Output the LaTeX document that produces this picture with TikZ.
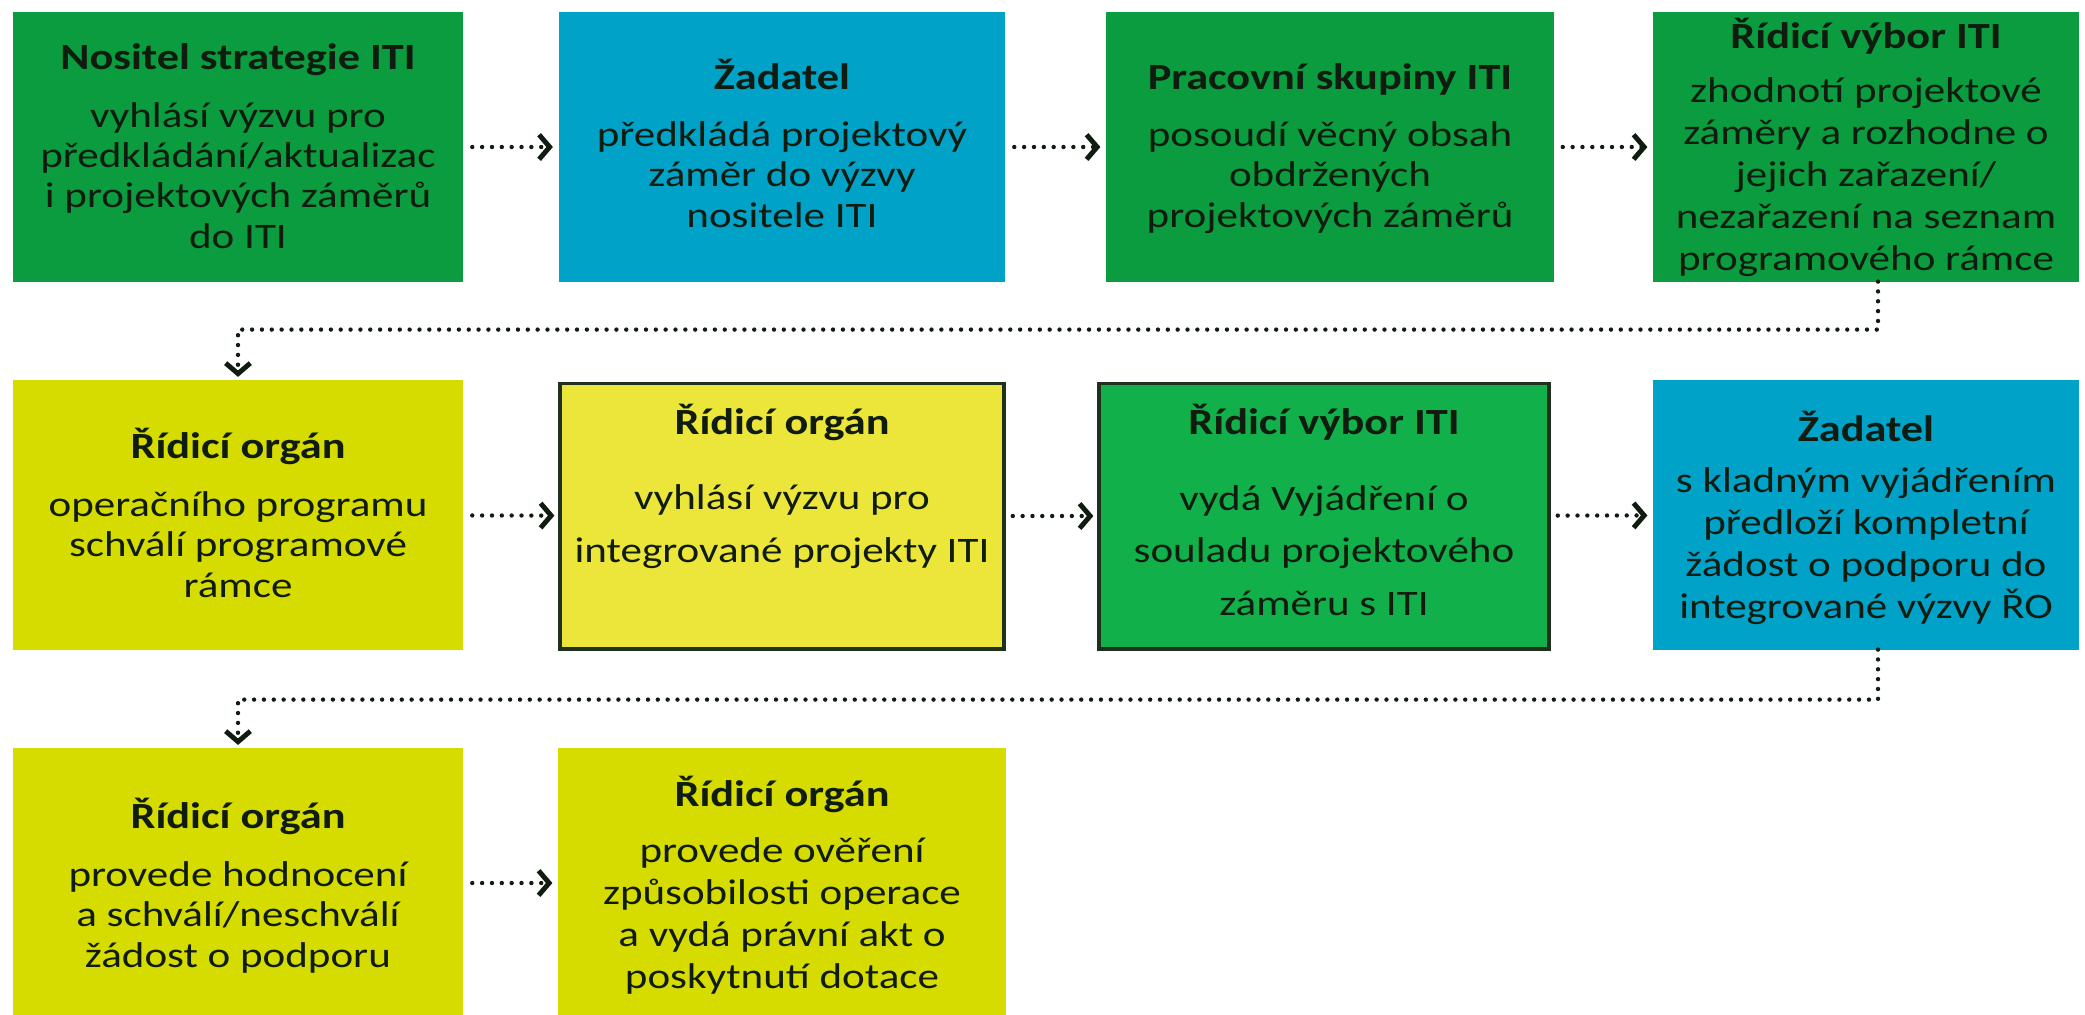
\documentclass[tikz,border=0pt]{standalone}
\usepackage{fontspec}
\setmainfont[FakeStretch=1.2]{Carlito}
\usetikzlibrary{arrows.meta}
\definecolor{grn}{RGB}{10,156,62}
\definecolor{lgr}{RGB}{18,176,74}
\definecolor{blu}{RGB}{0,162,200}
\definecolor{olv}{RGB}{214,219,0}
\definecolor{lem}{RGB}{236,230,58}
\definecolor{edge}{RGB}{30,48,30}
\definecolor{ink}{RGB}{15,28,15}
\begin{document}
\begin{tikzpicture}[x=0.01cm,y=-0.01cm,
  box/.style={rectangle,inner sep=0pt,outer sep=0pt,minimum height=2.69cm},
  txt/.style={align=center,anchor=base,inner sep=0pt,text=ink,font=\fontsize{10.2}{11.4}\selectfont},
  loose/.style={txt,font=\fontsize{10.2}{11.9}\selectfont},
  wide/.style={txt,font=\fontsize{10.2}{14.9}\selectfont},
  head/.style={txt,font=\fontsize{10.5}{12}\selectfont\bfseries},
  flow/.style={draw=ink,line width=1.25pt,dash pattern=on 0pt off 2.8pt,line cap=round,
    -{Straight Barb[length=3pt,width=7pt,line width=1.4pt]}},
  link/.style={flow,shorten <=2.6pt,shorten >=1.7pt}]
\useasboundingbox (0,0) rectangle (2085,1014);
% boxes
\node[box,fill=grn,minimum width=4.5cm] (1) at (238,147) {};
\node[box,fill=blu,minimum width=4.46cm] (2) at (782,147) {};
\node[box,fill=grn,minimum width=4.47cm] (3) at (1330,147) {};
\node[box,fill=grn,minimum width=4.25cm] (4) at (1866,147) {};
\node[box,fill=olv,minimum width=4.5cm] (5) at (238,515) {};
\node[box,fill=lem,draw=edge,line width=1.1pt,minimum width=4.43cm,minimum height=2.65cm] (6) at (782,516) {};
\node[box,fill=lgr,draw=edge,line width=1.1pt,minimum width=4.49cm,minimum height=2.65cm] (7) at (1324,516) {};
\node[box,fill=blu,minimum width=4.25cm] (8) at (1866,515) {};
\node[box,fill=olv,minimum width=4.5cm] (9) at (238,883) {};
\node[box,fill=olv,minimum width=4.47cm] (10) at (782,883) {};
% texts (body nodes sit on their last line)
\node[head] (1h) at (238,69) {Nositel strategie ITI};
\node[txt] (1b) at (238,248) {vyhlásí výzvu pro\\předkládání/aktualizac\\i projektových záměrů\\do ITI};
\node[head] (2h) at (782,89) {Žadatel};
\node[txt] (2b) at (782,227) {předkládá projektový\\záměr do výzvy\\nositele ITI};
\node[head] (3h) at (1330,89) {Pracovní skupiny ITI};
\node[txt] (3b) at (1330,227) {posoudí věcný obsah\\obdržených\\projektových záměrů};
\node[head] (4h) at (1866,48) {Řídicí výbor ITI};
\node[loose] (4b) at (1866,270) {zhodnotí projektové\\záměry a rozhodne o\\jejich zařazení/\\nezařazení na seznam\\programového rámce};
\node[head] (5h) at (238,458) {Řídicí orgán};
\node[txt] (5b) at (238,597) {operačního programu\\schválí programové\\rámce};
\node[head] (6h) at (782,434) {Řídicí orgán};
\node[wide] (6b) at (782,562) {vyhlásí výzvu pro\\integrované projekty ITI};
\node[head] (7h) at (1324,434) {Řídicí výbor ITI};
\node[wide] (7b) at (1324,615) {vydá Vyjádření o\\souladu projektového\\záměru s ITI};
\node[head] (8h) at (1866,441) {Žadatel};
\node[loose] (8b) at (1866,618) {s kladným vyjádřením\\předloží kompletní\\žádost o podporu do\\integrované výzvy ŘO};
\node[head] (9h) at (238,828) {Řídicí orgán};
\node[txt] (9b) at (238,967) {provede hodnocení\\a schválí/neschválí\\žádost o podporu};
\node[head] (10h) at (782,806) {Řídicí orgán};
\node[loose] (10b) at (782,988) {provede ověření\\způsobilosti operace\\a vydá právní akt o\\poskytnutí dotace};
% connectors
\draw[link] (1) -- (2);
\draw[link] (2) -- (3);
\draw[link] (3) -- (4);
\draw[flow,shorten >=1pt] ([xshift=0.12cm]4.south) -- ++(0,48) -| (5.north);
\draw[link] (5) -- (6);
\draw[link] (6) -- (7);
\draw[link] (7) -- (8);
\draw[flow,shorten >=1pt] ([xshift=0.12cm]8.south) -- ++(0,50) -| (9.north);
\draw[link] (9) -- (10);
\end{tikzpicture}
\end{document}
